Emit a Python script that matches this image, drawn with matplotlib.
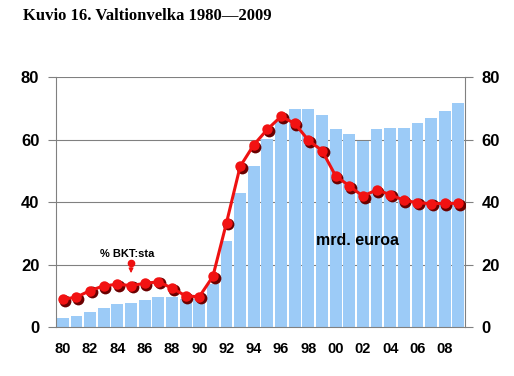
import matplotlib
matplotlib.use("Agg")
import matplotlib.pyplot as plt
import matplotlib.transforms as mtransforms
import numpy as np

years = list(range(1980, 2010))
debt_bn_eur = [2.9, 3.5, 4.9, 6.2, 7.3, 7.8, 8.6, 9.6, 9.6, 9.0,
               9.0, 13.9, 27.5, 42.9, 51.6, 60.3, 65.5, 69.7, 69.8, 68.0,
               63.4, 61.7, 59.5, 63.3, 63.7, 63.7, 65.3, 66.8, 69.3, 71.6]
debt_pct_gdp = [8.9, 9.6, 11.7, 13.2, 13.7, 13.3, 14.0, 14.5, 12.5, 10.0,
                9.7, 16.2, 33.4, 51.4, 58.3, 63.3, 67.4, 65.2, 59.8, 56.5,
                48.4, 45.2, 41.9, 43.9, 42.4, 40.6, 39.8, 39.5, 39.6, 39.6]
x_labels = ["80", "82", "84", "86", "88", "90", "92", "94", "96", "98",
            "00", "02", "04", "06", "08"]
y_ticks = [0, 20, 40, 60, 80]

fig = plt.figure(figsize=(5.14, 3.76), dpi=100)
ax = fig.add_axes([0.109, 0.130, 0.796, 0.665])
x = np.arange(len(years))

ax.bar(x, debt_bn_eur, width=0.87, color="#9CCBF7", zorder=2)
shadow_tr = mtransforms.offset_copy(ax.transData, fig=fig, x=1.2, y=-1.2, units="points")
ax.plot(x, debt_pct_gdp, color="#6A0000", lw=0, marker="o", ms=8.5,
        markeredgewidth=0, transform=shadow_tr, zorder=3)
ax.plot(x, debt_pct_gdp, color="#EE1111", lw=2.2, zorder=4)
ax.plot(x, debt_pct_gdp, lw=0, marker="o", ms=7.5, markerfacecolor="#F21212",
        markeredgewidth=0, zorder=5)

ax.set_xlim(-0.5, len(years) - 0.5)
ax.set_ylim(0, 80)
ax.set_yticks(y_ticks)
ax.set_xticks(x[::2])
ax.set_xticklabels(x_labels, fontsize=10.5, fontweight="bold", family="Liberation Sans")
ax.tick_params(axis="x", length=0, pad=11)
ax.tick_params(axis="y", length=6, color="#808080", labelsize=12, pad=6)
for lab in ax.get_yticklabels():
    lab.set_fontweight("bold")
    lab.set_family("Liberation Sans")
for yv in [20, 40, 60, 80]:
    ax.axhline(yv, color="#808080", lw=0.8, zorder=1)
for s in ["left", "right", "bottom"]:
    ax.spines[s].set_color("#808080")
    ax.spines[s].set_linewidth(0.8)
ax.spines["top"].set_visible(False)

ax2 = ax.twinx()
ax2.set_ylim(0, 80)
ax2.set_yticks(y_ticks)
ax2.tick_params(axis="y", length=6, color="#808080", labelsize=12, pad=6)
for lab in ax2.get_yticklabels():
    lab.set_fontweight("bold")
    lab.set_family("Liberation Sans")
for s in ax2.spines.values():
    s.set_visible(False)

# annotations
ax.text(4.7, 23.4, "% BKT:sta", fontsize=8, fontweight="bold", family="Liberation Sans",
        ha="center", va="center", zorder=6)
ax.plot([5], [20.6], marker="o", ms=4.5, color="#EE1111", zorder=6)
ax.annotate("", xy=(5, 16.4), xytext=(5, 20.4),
            arrowprops=dict(arrowstyle="-|>", color="#EE1111", lw=0.8,
                            mutation_scale=7), zorder=6)
ax.text(21.6, 27.8, "mrd. euroa", fontsize=11.5, fontweight="bold", family="Liberation Sans",
        ha="center", va="center", zorder=6)

fig.text(0.044, 0.958, "Kuvio 16. Valtionvelka 1980\u20142009", fontsize=12, fontweight="bold",
         family="Liberation Serif", ha="left", va="center")

fig.savefig("out.png", dpi=100)
